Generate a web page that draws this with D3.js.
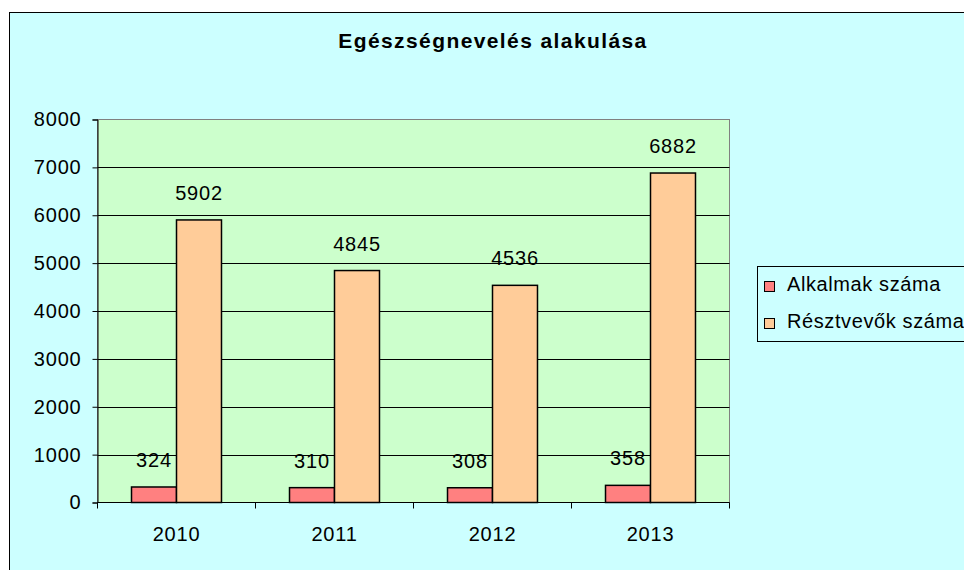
<!DOCTYPE html>
<html>
<head>
<meta charset="utf-8">
<script src="https://cdn.jsdelivr.net/npm/d3@7"></script>
<style>
  html, body { margin: 0; padding: 0; background: #fff; }
  svg { display: block; }
  text { font-family: "Liberation Sans", Arial, sans-serif; fill: #000; }
</style>
</head>
<body>
<svg id="chart" width="964" height="570"></svg>
<script>
const title = "Egészségnevelés alakulása";
const years = ["2010", "2011", "2012", "2013"];
const seriesNames = ["Alkalmak száma", "Résztvevők száma"];
const alkalmak = [324, 310, 308, 358];
const resztvevok = [5902, 4845, 4536, 6882];
const yTicks = [0, 1000, 2000, 3000, 4000, 5000, 6000, 7000, 8000];
const colors = ["#FF8080", "#FFCC99"];

const seriesValues = [alkalmak, resztvevok];
const data = years.map((y, i) => ({
  year: y,
  values: seriesNames.map((s, j) => ({ series: s, value: seriesValues[j][i], idx: j }))
}));

const svg = d3.select("#chart");
const plot = { left: 97.5, right: 729.5, top: 119.5, bottom: 502.5 };

// chart background
svg.append("rect").attr("x", 9.5).attr("y", 12.5).attr("width", 980).attr("height", 600)
  .attr("fill", "#CCFFFF").attr("stroke", "#000").attr("stroke-width", 1);

// title
svg.append("text").attr("x", 493).attr("y", 48).attr("text-anchor", "middle")
  .style("font-size", "21px").style("font-weight", "bold").style("letter-spacing", "1.4px")
  .text(title);

const x = d3.scaleBand().domain(years).range([plot.left, plot.right]).padding(0);
const xi = d3.scaleBand().domain(seriesNames).range([0, x.bandwidth()]).paddingInner(0).paddingOuter(0.756);
const y = d3.scaleLinear().domain([0, 8000]).range([plot.bottom, plot.top]);

// plot area
svg.append("rect").attr("x", plot.left).attr("y", plot.top)
  .attr("width", plot.right - plot.left).attr("height", plot.bottom - plot.top)
  .attr("fill", "#CCFFCC").attr("stroke", "#808080").attr("stroke-width", 1);

// gridlines
svg.append("g").selectAll("line").data(yTicks.filter(t => t > 0 && t < 8000)).join("line")
  .attr("x1", plot.left).attr("x2", plot.right)
  .attr("y1", d => Math.round(y(d)) + 0.5).attr("y2", d => Math.round(y(d)) + 0.5)
  .attr("stroke", "#000").attr("stroke-width", 1);

// y axis
const yAxis = d3.axisLeft(y).tickValues(yTicks).tickSize(5).tickPadding(11).tickFormat(d3.format("d"));
const gy = svg.append("g").attr("transform", `translate(${plot.left},0)`).call(yAxis);
gy.select(".domain").attr("stroke", "#000");
gy.selectAll(".tick line").attr("stroke", "#000");
gy.selectAll(".tick text").style("font-size", "20px").style("font-family", "Liberation Sans, Arial, sans-serif")
  .style("letter-spacing", "0.8px").attr("fill", "#000");

// x axis
const xAxis = d3.axisBottom(x).tickSize(0).tickPadding(0);
const gx = svg.append("g").attr("transform", `translate(0,${plot.bottom})`).call(xAxis);
gx.select(".domain").remove();
gx.selectAll(".tick text").attr("y", 38).attr("dy", 0).style("font-size", "20px")
  .style("font-family", "Liberation Sans, Arial, sans-serif").style("letter-spacing", "0.8px").attr("fill", "#000");
// x tick marks at category boundaries
const bounds = years.map(d => x(d)).concat([x(years[years.length - 1]) + x.bandwidth()]);
svg.append("g").selectAll("line").data(bounds).join("line")
  .attr("x1", d => d).attr("x2", d => d).attr("y1", plot.bottom).attr("y2", plot.bottom + 6)
  .attr("stroke", "#000");
svg.append("line").attr("x1", plot.left).attr("x2", plot.right).attr("y1", plot.bottom).attr("y2", plot.bottom)
  .attr("stroke", "#000");

// bars
const groups = svg.append("g").selectAll("g").data(data).join("g")
  .attr("transform", d => `translate(${x(d.year)},0)`);
groups.selectAll("rect").data(d => d.values).join("rect")
  .attr("x", d => xi(d.series)).attr("y", d => y(d.value))
  .attr("width", xi.bandwidth()).attr("height", d => plot.bottom - y(d.value))
  .attr("fill", d => colors[d.idx]).attr("stroke", "#000").attr("stroke-width", 1.5);
groups.selectAll("text").data(d => d.values).join("text")
  .attr("x", d => xi(d.series) + xi.bandwidth() / 2).attr("y", d => y(d.value) - 20)
  .attr("text-anchor", "middle").style("font-size", "20px").style("letter-spacing", "0.8px")
  .text(d => d.value);

// legend
svg.append("rect").attr("x", 757.5).attr("y", 266.5).attr("width", 260).attr("height", 75)
  .attr("fill", "#CCFFFF").attr("stroke", "#000").attr("stroke-width", 1);
const lg = svg.append("g").selectAll("g").data(seriesNames).join("g")
  .attr("transform", (d, i) => `translate(0,${i * 37})`);
lg.append("rect").attr("x", 764.5).attr("y", 281.5).attr("width", 10).attr("height", 10)
  .attr("fill", (d, i) => colors[i]).attr("stroke", "#000").attr("stroke-width", 1);
lg.append("text").attr("x", 787).attr("y", 291).style("font-size", "20px").style("letter-spacing", "0.6px")
  .text(d => d);
</script>
</body>
</html>
